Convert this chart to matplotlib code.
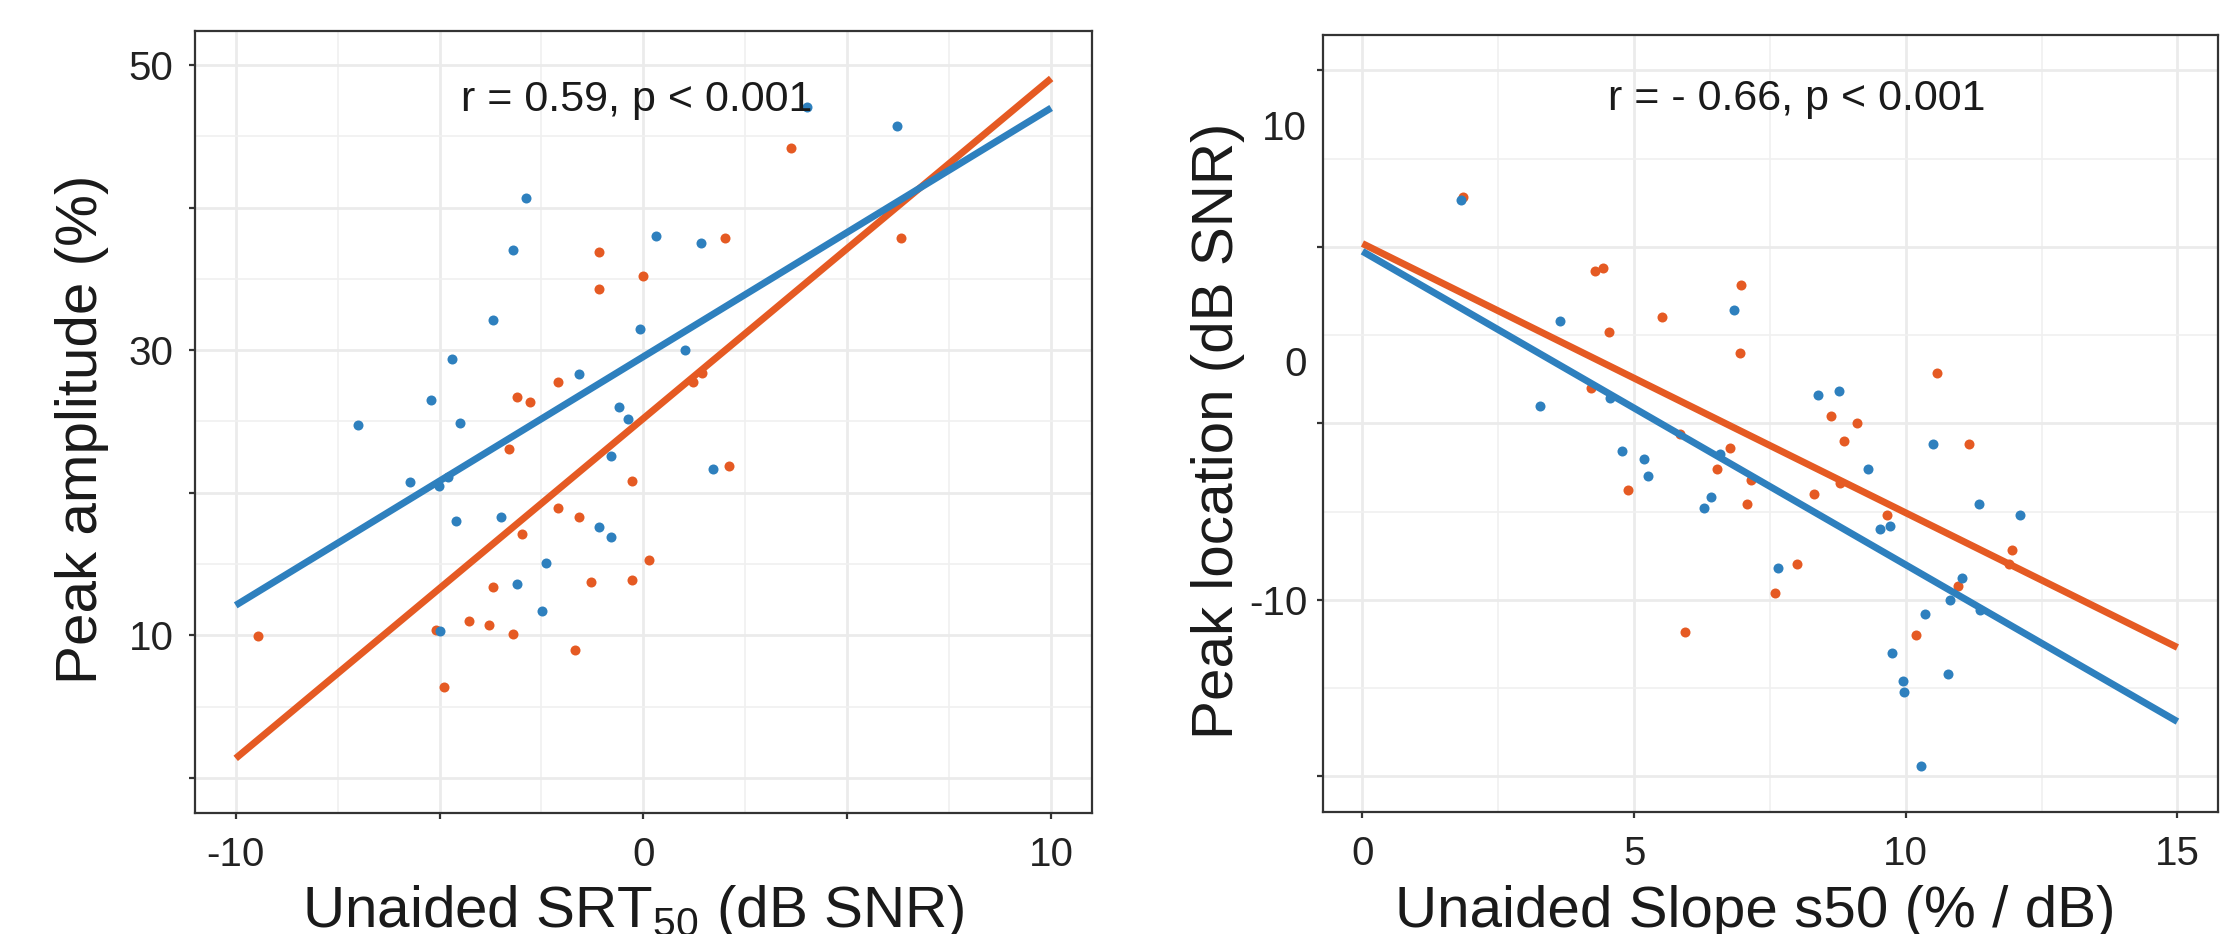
import numpy as np
import matplotlib.pyplot as plt

plt.rcParams['font.family'] = ['Liberation Sans', 'DejaVu Sans']
plt.rcParams['mathtext.default'] = 'regular'

# left panel: unaided SRT50 vs peak amplitude
srt_blue = [-2.89, -3.19, -3.69, -4.69, -5.20, -6.99, -4.49, -1.59, -0.59, -0.39,
            -0.09, 4.00, 6.21, 0.31, 1.40, 1.01, -0.79, -5.72, -5.02, -4.80,
            -4.59, -3.50, -1.10, -0.79, -2.38, -3.09, -2.49, -4.99, 1.71]
amp_blue = [40.7, 37.0, 32.1, 29.4, 26.5, 24.75, 24.9, 28.3, 26.0, 25.2,
            31.5, 47.1, 45.75, 38.0, 37.5, 30.0, 22.6, 20.75, 20.5, 21.1,
            18.0, 18.3, 17.6, 16.9, 15.1, 13.6, 11.7, 10.3, 21.7]
srt_orange = [-1.10, 0.00, -1.10, -2.09, -3.09, -2.79, 3.61, 2.01, 6.31, 1.43,
              1.21, -3.29, -0.29, -2.09, -1.59, -2.99, 0.14, -3.69, -1.29, -0.29,
              -9.46, -5.09, -4.29, -3.79, -3.20, -1.69, -4.89, 2.11]
amp_orange = [36.9, 35.2, 34.3, 27.75, 26.7, 26.4, 44.2, 37.9, 37.9, 28.4,
              27.75, 23.1, 20.8, 18.9, 18.3, 17.1, 15.3, 13.4, 13.75, 13.85,
              9.94, 10.4, 11.0, 10.7, 10.1, 9.0, 6.4, 21.9]
# fitted lines, end points
srt_fit = [-10, 10]
amp_fit_blue = [12.1, 47.0]
amp_fit_orange = [1.36, 49.07]

# right panel: unaided slope s50 vs peak location
slope_blue = [1.82, 3.63, 6.83, 3.26, 4.56, 4.77, 5.18, 5.25, 6.58, 6.42,
              6.28, 7.65, 8.39, 8.77, 10.51, 9.31, 9.53, 9.71, 11.35, 12.10,
              11.04, 10.81, 11.37, 10.35, 9.75, 9.94, 9.97, 10.78, 10.28]
loc_blue = [6.97, 1.85, 2.31, -1.75, -1.44, -3.69, -4.0, -4.75, -3.82, -5.64,
            -6.10, -8.64, -1.29, -1.13, -3.39, -4.44, -7.0, -6.85, -5.94, -6.39,
            -9.09, -10.0, -10.45, -10.59, -12.24, -13.44, -13.9, -13.14, -17.05]
slope_orange = [1.85, 4.28, 4.42, 6.97, 4.53, 5.51, 6.94, 4.21, 5.84, 4.89,
                6.76, 6.52, 7.15, 7.07, 7.59, 5.93, 8.62, 9.11, 10.58, 8.86,
                11.17, 8.31, 8.79, 9.65, 11.96, 11.90, 7.99, 10.97, 10.19]
loc_orange = [7.12, 3.98, 4.11, 3.36, 1.40, 2.01, 0.51, -1.01, -2.93, -5.34,
              -3.53, -4.45, -4.92, -5.94, -9.69, -11.35, -2.20, -2.49, -0.38, -3.24,
              -3.39, -5.49, -5.05, -6.39, -7.88, -8.47, -8.48, -9.39, -11.5]
slope_fit = [0, 15]
loc_fit_blue = [4.81, -15.17]
loc_fit_orange = [5.14, -12.02]

blue = '#2E80BE'
orange = '#E55A23'
txt = '#1a1a1a'
ticktxt = '#222222'

fig = plt.figure(figsize=(22.38, 9.34), dpi=100)
ax1 = fig.add_axes([0.0871, 0.1299, 0.4008, 0.8369])
ax2 = fig.add_axes([0.5913, 0.1309, 0.3996, 0.8316])


def style(ax):
    for s in ax.spines.values():
        s.set_color('#333333')
        s.set_linewidth(1.6)
    ax.tick_params(which='major', length=4.5, width=1.6, color='#333333',
                   labelsize=29, labelcolor=ticktxt)
    ax.tick_params(which='minor', length=0)
    ax.tick_params(axis='x', pad=12)
    ax.set_axisbelow(True)
    ax.grid(which='major', color='#EBEBEB', lw=2.0)
    ax.grid(which='minor', color='#F0F0F0', lw=1.2)


# ---- left panel
ax1.scatter(srt_orange, amp_orange, s=52, color=orange, lw=0, zorder=2)
ax1.scatter(srt_blue, amp_blue, s=52, color=blue, lw=0, zorder=2)
ax1.plot(srt_fit, amp_fit_orange, color=orange, lw=5, solid_capstyle='butt', zorder=3)
ax1.plot(srt_fit, amp_fit_blue, color=blue, lw=5, solid_capstyle='butt', zorder=3)
ax1.set_xlim(-11, 11)
ax1.set_ylim(-2.45, 52.4)
ax1.set_xticks([-10, -5, 0, 5, 10], ['-10', '', '0', '', '10'])
ax1.set_xticks([-7.5, -2.5, 2.5, 7.5], minor=True)
ax1.set_yticks([0, 10, 20, 30, 40, 50], ['', '10', '', '30', '', '50'])
ax1.set_yticks([5, 15, 25, 35, 45], minor=True)
style(ax1)
ax1.tick_params(axis='y', pad=11)
ax1.text(0.493, 0.912, 'r = 0.59, p < 0.001', transform=ax1.transAxes,
         ha='center', va='center', fontsize=31, color=txt, zorder=5)
ax1.set_xlabel('Unaided SRT$_{50}$ (dB SNR)', fontsize=42, color=txt, va='baseline')
ax1.xaxis.set_label_coords(0.488, -0.146)
ax1.set_ylabel('Peak amplitude (%)', fontsize=42, color=txt, va='center')
ax1.yaxis.set_label_coords(-0.126, 0.49)

# ---- right panel
ax2.scatter(slope_orange, loc_orange, s=52, color=orange, lw=0, zorder=2)
ax2.scatter(slope_blue, loc_blue, s=52, color=blue, lw=0, zorder=2)
ax2.plot(slope_fit, loc_fit_orange, color=orange, lw=5, solid_capstyle='butt', zorder=3)
ax2.plot(slope_fit, loc_fit_blue, color=blue, lw=5, solid_capstyle='butt', zorder=3)
ax2.set_xlim(-0.72, 15.74)
ax2.set_ylim(-19.0, 14.0)
ax2.set_xticks([0, 5, 10, 15])
ax2.set_xticks([2.5, 7.5, 12.5], minor=True)
ax2.set_yticks([-17.5, -10, -2.5, 5, 12.5], ['', '-10', '', '', ''])
ax2.set_yticks([-13.75, -6.25, 1.25, 8.75], minor=True)
style(ax2)
ax2.tick_params(axis='y', pad=7)
# the '0' and '10' labels sit between the tick marks in the original
ytr = ax2.get_yaxis_transform()
for v, lab in [(0, '0'), (10, '10')]:
    ax2.text(-0.0185, v, lab, transform=ytr, ha='right', va='center',
             fontsize=29, color=ticktxt)
ax2.text(0.5296, 0.917, 'r = - 0.66, p < 0.001', transform=ax2.transAxes,
         ha='center', va='center', fontsize=31, color=txt, zorder=5)
ax2.set_xlabel('Unaided Slope s50 (% / dB)', fontsize=42, color=txt, va='baseline')
ax2.xaxis.set_label_coords(0.483, -0.1485)
ax2.set_ylabel('Peak location (dB SNR)', fontsize=42, color=txt, va='center')
ax2.yaxis.set_label_coords(-0.1183, 0.49)

fig.savefig('out.png', dpi=100)
